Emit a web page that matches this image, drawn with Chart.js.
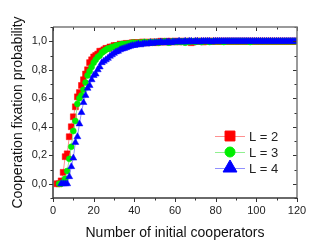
<!DOCTYPE html>
<html>
<head>
<meta charset="utf-8">
<script src="https://cdn.jsdelivr.net/npm/chart.js@4"></script>
<style>
  html, body { margin: 0; padding: 0; background: #fff; }
</style>
</head>
<body>
<canvas id="chart" width="320" height="246"></canvas>
<script>
// data: x = number of initial cooperators, step 1
const redStart = 2;   // L = 2
const redValues = [
  0, 0, 0.02, 0.08, 0.19, 0.21, 0.33, 0.40, 0.47,
  0.54, 0.61, 0.64, 0.69, 0.73, 0.77, 0.80, 0.85, 0.87, 0.89,
  0.90, 0.91, 0.93, 0.93, 0.94, 0.95, 0.95, 0.96, 0.96, 0.97,
  0.97, 0.97, 0.98, 0.975, 0.98, 0.985, 0.98, 0.985, 0.99, 0.99,
  0.99, 0.985, 0.99, 0.995, 0.99, 0.99, 0.995, 0.99, 0.995, 0.995,
  0.99, 0.995, 1, 0.995, 0.995, 1, 0.995, 1, 0.995, 1,
  1, 0.995, 1, 1, 0.995, 1, 1, 0.99, 0.995, 1,
  1, 1, 1, 0.995, 1, 1, 1, 1, 1, 1,
  1, 1, 1, 1, 1, 1, 1, 1, 1, 1,
  1, 1, 1, 1, 1, 1, 1, 1, 1, 1,
  1, 1, 1, 1, 1, 1, 1, 1, 1, 1,
  1, 1, 1, 1, 1, 1, 1, 1, 1, 1
];

const greenStart = 3;  // L = 3
const greenValues = [
  0, 0, 0.01, 0.035, 0.09, 0.175, 0.26, 0.37,
  0.44, 0.56, 0.60, 0.62, 0.66, 0.71, 0.76, 0.79, 0.82, 0.85,
  0.87, 0.89, 0.90, 0.92, 0.93, 0.94, 0.95, 0.95, 0.96, 0.96,
  0.97, 0.97, 0.975, 0.98, 0.98, 0.98, 0.985, 0.985, 0.99, 0.99,
  0.985, 0.99, 0.99, 0.99, 0.995, 0.99, 0.99, 0.995, 0.99, 0.995,
  0.995, 0.99, 0.995, 0.995, 1, 0.995, 0.99, 0.995, 1, 0.995,
  0.995, 1, 0.995, 1, 0.99, 1, 0.995, 1, 1, 0.995,
  1, 1, 0.995, 1, 1, 1, 0.995, 1, 1, 1,
  1, 1, 1, 0.995, 1, 1, 1, 1, 1, 1,
  1, 1, 1, 1, 1, 1, 0.995, 1, 1, 1,
  1, 1, 1, 1, 1, 1, 1, 1, 1, 1,
  1, 1, 1, 1, 1, 1, 1, 1, 1, 1
];

const blueStart = 4;   // L = 4
const blueValues = [
  0, 0, 0, 0, 0.05, 0.12, 0.18,
  0.29, 0.33, 0.42, 0.50, 0.57, 0.62, 0.67, 0.69, 0.73, 0.76,
  0.77, 0.80, 0.82, 0.85, 0.86, 0.87, 0.88, 0.895, 0.905, 0.915,
  0.925, 0.93, 0.94, 0.945, 0.95, 0.955, 0.96, 0.965, 0.97, 0.97,
  0.975, 0.98, 0.975, 0.98, 0.985, 0.98, 0.985, 0.99, 0.985, 0.99,
  0.99, 0.99, 0.995, 0.99, 0.99, 0.995, 0.995, 0.99, 0.995, 0.995,
  0.995, 1, 0.995, 0.995, 1, 0.995, 1, 1, 0.995, 1,
  1, 0.995, 1, 1, 1, 1, 1, 0.995, 1, 1,
  1, 1, 1, 1, 1, 1, 1, 1, 1, 1,
  1, 1, 1, 1, 1, 1, 1, 1, 1, 1,
  1, 1, 1, 1, 1, 1, 1, 1, 1, 1,
  1, 1, 1, 1, 1, 1, 1, 1, 1, 1
];

const seriesLabels = ['L = 2', 'L = 3', 'L = 4'];
const xTicks = [0, 20, 40, 60, 80, 100, 120];
const xMinorTicks = [10, 30, 50, 70, 90, 110];
const yTicks = [0, 0.2, 0.4, 0.6, 0.8, 1.0];
const yMinorTicks = [-0.1, 0.1, 0.3, 0.5, 0.7, 0.9, 1.1];

const toPoints = (start, values) => values.map((v, i) => ({ x: start + i, y: v }));

const FONT = 'Arial, "Liberation Sans", sans-serif';

// frame: ticks point out on bottom/left, in on top/right
const framePlugin = {
  id: 'frame',
  afterDatasetsDraw(chart) {
    const { ctx, chartArea: a, scales: { x, y } } = chart;
    ctx.save();
    ctx.strokeStyle = '#333';
    ctx.lineWidth = 1;
    const tickX = (vals, len) => vals.forEach(v => {
      const px = Math.round(x.getPixelForValue(v)) + 0.5;
      ctx.beginPath();
      ctx.moveTo(px, a.bottom); ctx.lineTo(px, a.bottom + len);
      ctx.moveTo(px, a.top); ctx.lineTo(px, a.top + len);
      ctx.stroke();
    });
    const tickY = (vals, len) => vals.forEach(v => {
      const py = Math.round(y.getPixelForValue(v)) + 0.5;
      ctx.beginPath();
      ctx.moveTo(a.left, py); ctx.lineTo(a.left - len, py);
      ctx.moveTo(a.right, py); ctx.lineTo(a.right - len, py);
      ctx.stroke();
    });
    tickX(xTicks, 4);
    tickX(xMinorTicks, 2.5);
    tickY(yTicks, 4);
    tickY(yMinorTicks, 2.5);

    ctx.lineWidth = 1.5;
    ctx.strokeStyle = '#7a7a7a';
    ctx.beginPath();
    ctx.moveTo(a.left, a.top); ctx.lineTo(a.right, a.top); ctx.lineTo(a.right, a.bottom);
    ctx.stroke();
    ctx.strokeStyle = '#3a3a3a';
    ctx.beginPath();
    ctx.moveTo(a.left, a.top); ctx.lineTo(a.left, a.bottom); ctx.lineTo(a.right, a.bottom);
    ctx.stroke();
    ctx.restore();
  },
  afterDraw(chart) {
    // legend: line + marker + text, inside the plot at right
    const { ctx, chartArea: a } = chart;
    const sizes = [7, 5, 8];
    ctx.save();
    chart.data.datasets.forEach((ds, i) => {
      const cy = a.top + 109 + i * 16;
      const lx = a.right - 82;
      ctx.strokeStyle = ds.borderColor;
      ctx.lineWidth = 1;
      ctx.beginPath();
      ctx.moveTo(lx, cy + 0.5); ctx.lineTo(lx + 30, cy + 0.5);
      ctx.stroke();
      ctx.fillStyle = ds.pointBackgroundColor;
      ctx.strokeStyle = ds.pointBorderColor;
      Chart.helpers.drawPoint(ctx, { pointStyle: ds.pointStyle, radius: sizes[i], rotation: 0, borderWidth: 1 }, lx + 15, cy);
      ctx.fillStyle = '#222';
      ctx.font = '13px ' + FONT;
      ctx.textBaseline = 'middle';
      ctx.fillText(ds.label, lx + 34, cy + 1);
    });
    ctx.restore();
  }
};

const makeSet = (label, data, solid, light, style, radius, order) => ({
  label,
  data,
  showLine: true,
  borderColor: light,
  borderWidth: 1,
  pointStyle: style,
  pointRadius: radius,
  pointBackgroundColor: solid,
  pointBorderColor: solid,
  pointBorderWidth: 0.5,
  order,
});

new Chart(document.getElementById('chart'), {
  type: 'scatter',
  data: {
    datasets: [
      makeSet(seriesLabels[0], toPoints(redStart, redValues), '#ff0000', '#ff9090', 'rect', 4.2, 2),
      makeSet(seriesLabels[1], toPoints(greenStart, greenValues), '#00ee00', '#90f090', 'circle', 3, 1),
      makeSet(seriesLabels[2], toPoints(blueStart, blueValues), '#0000ff', '#9090ff', 'triangle', 4, 0),
    ],
  },
  options: {
    responsive: false,
    animation: false,
    devicePixelRatio: 1,
    layout: { padding: { top: 27, right: 23, left: 0, bottom: 0 } },
    plugins: {
      legend: { display: false },
      tooltip: { enabled: false },
    },
    scales: {
      x: {
        type: 'linear',
        min: 0,
        max: 120,
        afterBuildTicks: s => { s.ticks = xTicks.map(v => ({ value: v })); },
        afterFit: s => { s.height = 48; },
        grid: { display: false, drawTicks: false },
        border: { display: false },
        ticks: { color: '#222', padding: 6, font: { size: 11, family: FONT } },
        title: {
          display: true,
          text: 'Number of initial cooperators',
          color: '#111',
          font: { size: 14, family: FONT },
          padding: { top: 8 },
        },
      },
      y: {
        type: 'linear',
        min: -0.1,
        max: 1.1,
        afterBuildTicks: s => { s.ticks = yTicks.map(v => ({ value: v })); },
        afterFit: s => { s.width = 53; },
        grid: { display: false, drawTicks: false },
        border: { display: false },
        ticks: {
          color: '#222',
          padding: 6,
          font: { size: 11, family: FONT },
          callback: v => v.toFixed(1).replace('.', ','),
        },
        title: {
          display: true,
          text: 'Cooperation fixation probability',
          color: '#111',
          font: { size: 14, family: FONT },
          padding: { top: 10, bottom: 2 },
        },
      },
    },
  },
  plugins: [framePlugin],
});
</script>
</body>
</html>
